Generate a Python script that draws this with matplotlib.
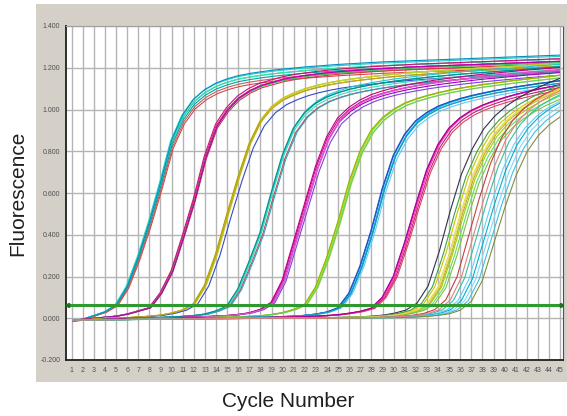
import numpy as np
import matplotlib.pyplot as plt
from matplotlib.patches import Rectangle

plt.rcParams['font.family'] = ['Liberation Sans', 'DejaVu Sans']

# cycles -1..47 (two extra points each side so shifted wells still cover 1..45)
cycles = np.arange(-1, 48)

g1 = [-0.015, -0.015,
      -0.015, -0.005, 0.012, 0.03, 0.062, 0.15, 0.29, 0.455, 0.64, 0.84,
      0.96, 1.035, 1.08, 1.11, 1.13, 1.145, 1.155, 1.163, 1.17, 1.176,
      1.181, 1.186, 1.19, 1.194, 1.198, 1.201, 1.204, 1.207, 1.21, 1.212,
      1.214, 1.216, 1.218, 1.22, 1.222, 1.224, 1.226, 1.228, 1.23, 1.232,
      1.234, 1.236, 1.238, 1.24, 1.242,
      1.244, 1.246]
g2 = [-0.01, -0.01,
      -0.01, -0.005, 0.0, 0.005, 0.01, 0.02, 0.035, 0.05, 0.12, 0.225,
      0.39, 0.565, 0.77, 0.92, 1.0, 1.055, 1.09, 1.115, 1.13, 1.145,
      1.155, 1.163, 1.17, 1.176, 1.181, 1.185, 1.189, 1.193, 1.196, 1.199,
      1.202, 1.205, 1.207, 1.209, 1.211, 1.213, 1.215, 1.217, 1.219, 1.221,
      1.223, 1.225, 1.227, 1.229, 1.231,
      1.233, 1.235]
g3 = [-0.01, -0.01,
      -0.01, -0.008, -0.005, 0.0, 0.0, 0.003, 0.006, 0.01, 0.015, 0.025,
      0.04, 0.07, 0.16, 0.31, 0.5, 0.68, 0.84, 0.95, 1.015, 1.055,
      1.08, 1.1, 1.115, 1.127, 1.137, 1.145, 1.152, 1.158, 1.164, 1.169,
      1.174, 1.178, 1.182, 1.186, 1.19, 1.193, 1.196, 1.199, 1.202, 1.205,
      1.208, 1.211, 1.214, 1.217, 1.22,
      1.223, 1.226]
g4 = [-0.012, -0.012,
      -0.012, -0.01, -0.008, -0.005, -0.003, 0.0, 0.0, 0.002, 0.004, 0.006,
      0.009, 0.013, 0.02, 0.035, 0.058, 0.14, 0.27, 0.41, 0.6, 0.78,
      0.91, 0.985, 1.03, 1.06, 1.08, 1.096, 1.108, 1.118, 1.127, 1.135,
      1.142, 1.148, 1.154, 1.159, 1.164, 1.169, 1.173, 1.177, 1.181, 1.185,
      1.189, 1.193, 1.197, 1.201, 1.205,
      1.209, 1.213]
g5 = [-0.01, -0.01,
      -0.01, -0.01, -0.008, -0.006, -0.004, -0.002, 0.0, 0.0, 0.0, 0.002,
      0.004, 0.006, 0.008, 0.01, 0.013, 0.018, 0.026, 0.042, 0.075, 0.18,
      0.36, 0.54, 0.72, 0.86, 0.95, 1.0, 1.035, 1.06, 1.078, 1.092,
      1.104, 1.114, 1.123, 1.131, 1.138, 1.145, 1.151, 1.157, 1.162, 1.167,
      1.172, 1.177, 1.181, 1.185, 1.189,
      1.193, 1.197]
g6 = [-0.01, -0.01,
      -0.01, -0.01, -0.008, -0.006, -0.005, -0.004, -0.003, -0.002, 0.0, 0.0,
      0.0, 0.002, 0.003, 0.004, 0.005, 0.007, 0.009, 0.012, 0.018, 0.027,
      0.042, 0.065, 0.15, 0.29, 0.46, 0.65, 0.8, 0.9, 0.96, 1.0,
      1.03, 1.05, 1.066, 1.08, 1.092, 1.102, 1.111, 1.119, 1.126, 1.133,
      1.14, 1.146, 1.152, 1.158, 1.164,
      1.17, 1.176]
g7 = [-0.008, -0.008,
      -0.008, -0.008, -0.007, -0.006, -0.005, -0.004, -0.003, -0.002, -0.001, 0.0,
      0.0, 0.0, 0.0, 0.001, 0.002, 0.003, 0.004, 0.005, 0.006, 0.008,
      0.01, 0.014, 0.02, 0.03, 0.05, 0.12, 0.25, 0.42, 0.62, 0.78,
      0.88, 0.945, 0.985, 1.015, 1.035, 1.052, 1.066, 1.078, 1.089, 1.099,
      1.108, 1.116, 1.124, 1.131, 1.138,
      1.145, 1.152]
g8 = [-0.008, -0.008,
      -0.008, -0.008, -0.007, -0.006, -0.005, -0.004, -0.003, -0.002, -0.002, -0.001,
      0.0, 0.0, 0.0, 0.0, 0.0, 0.001, 0.002, 0.003, 0.004, 0.005,
      0.006, 0.008, 0.01, 0.013, 0.017, 0.024, 0.033, 0.048, 0.1, 0.2,
      0.36, 0.54, 0.71, 0.83, 0.91, 0.96, 0.995, 1.02, 1.04, 1.057,
      1.072, 1.085, 1.097, 1.108, 1.118,
      1.128, 1.137]
g9 = [-0.01, -0.01,
      -0.01, -0.01, -0.009, -0.008, -0.007, -0.006, -0.005, -0.004, -0.003, -0.003,
      -0.002, -0.002, -0.001, -0.001, 0.0, 0.0, 0.0, 0.0, 0.0, 0.0,
      0.001, 0.001, 0.002, 0.002, 0.003, 0.004, 0.005, 0.007, 0.01, 0.015,
      0.024, 0.038, 0.07, 0.15, 0.31, 0.5, 0.67, 0.79, 0.88, 0.94,
      0.985, 1.02, 1.05, 1.075, 1.098,
      1.118, 1.136]
g10 = [-0.008, -0.008,
       -0.008, -0.008, -0.008, -0.007, -0.007, -0.006, -0.006, -0.005, -0.005, -0.004,
       -0.004, -0.003, -0.003, -0.002, -0.002, -0.001, -0.001, 0.0, 0.0, 0.0,
       0.0, 0.0, 0.0, 0.0, 0.001, 0.001, 0.002, 0.002, 0.003, 0.004,
       0.006, 0.009, 0.014, 0.022, 0.04, 0.085, 0.19, 0.37, 0.55, 0.71,
       0.83, 0.91, 0.965, 1.005, 1.035,
       1.06, 1.08]

groups = [g1, g2, g3, g4, g5, g6, g7, g8, g9, g10]

# per well: (cycle shift, gain, colour)
wells = [
    [(0.0, 1.0, '#00c8b4'), (-0.1, 1.01, '#20d0d0'), (0.05, 0.99, '#00a0a0'),
     (0.15, 0.97, '#d04848'), (0.1, 0.98, '#c06060'), (-0.05, 1.0, '#40e0a0'),
     (0.0, 1.015, '#0090c0')],
    [(0.0, 1.0, '#e0008c'), (0.08, 1.0, '#ff3cb4'), (-0.05, 1.01, '#d01070'),
     (0.12, 0.99, '#e03050'), (0.05, 0.995, '#40c060'), (0.1, 1.0, '#b000b0')],
    [(0.0, 1.0, '#d4c400'), (0.1, 1.0, '#e8b800'), (-0.05, 0.99, '#a8a800'),
     (0.15, 1.0, '#b0d840'), (0.35, 0.97, '#3848c8'), (0.05, 0.99, '#c8a020')],
    [(0.0, 1.0, '#00b0a0'), (0.1, 1.01, '#20c8d0'), (0.2, 0.98, '#c05050'),
     (0.05, 0.99, '#40d8c0'), (0.3, 0.98, '#30a0c0'), (-0.05, 1.0, '#009090')],
    [(0.0, 1.0, '#e000a0'), (0.1, 0.99, '#a000c0'), (0.2, 1.0, '#ff40c0'),
     (0.3, 0.98, '#8040e0'), (-0.05, 1.01, '#c00080'), (0.15, 1.0, '#d060d0')],
    [(0.0, 1.0, '#b8d000'), (0.1, 1.0, '#80e040'), (0.2, 0.99, '#d0d040'),
     (-0.05, 1.0, '#a0b000'), (0.15, 0.99, '#60d060')],
    [(0.0, 1.0, '#0070e0'), (0.1, 0.99, '#40a0ff'), (0.2, 1.0, '#00b0e0'),
     (-0.05, 1.0, '#2050c0'), (0.3, 0.98, '#60c8ff'), (0.15, 0.99, '#10a0b0')],
    [(0.0, 1.0, '#e000b0'), (0.1, 1.0, '#ff30a0'), (0.2, 0.99, '#c02080'),
     (0.3, 0.98, '#e04060'), (-0.05, 1.0, '#a000a0')],
    [(-0.9, 1.03, '#303050'), (-0.3, 1.0, '#c8c800'), (0.0, 1.0, '#e0e040'),
     (0.3, 0.99, '#a0d000'), (0.5, 0.98, '#60e060'), (0.7, 0.97, '#80c040'),
     (0.2, 1.0, '#b0b020'), (-0.5, 1.01, '#40a040'), (0.1, 1.0, '#f0d060')],
    [(-1.3, 1.04, '#c04040'), (-0.6, 1.02, '#30c0a0'), (-0.2, 1.0, '#60d0ff'),
     (0.1, 1.0, '#00b0d0'), (0.4, 0.99, '#80d8ff'), (0.7, 0.98, '#40c0e0'),
     (1.0, 0.96, '#809040'), (-0.9, 1.03, '#e08080')],
]

threshold = 0.065
x_ticks = list(range(1, 46))
y_ticks = [-0.2, 0.0, 0.2, 0.4, 0.6, 0.8, 1.0, 1.2, 1.4]

fig = plt.figure(figsize=(5.67, 4.16), dpi=100, facecolor='white')

# grey instrument panel behind the plot
panel = fig.add_axes([36 / 567, 34 / 416, 531 / 567, 378 / 416])
panel.set_facecolor('#d4d0c8')
panel.set_xticks([])
panel.set_yticks([])
for s in panel.spines.values():
    s.set_visible(False)
panel.set_zorder(0)

ax = fig.add_axes([66 / 567, 56 / 416, 497 / 567, 334 / 416])
ax.set_zorder(2)
ax.set_facecolor('white')
ax.set_xlim(0.49, 45.25)
ax.set_ylim(-0.2, 1.4)

clip = Rectangle((1, -1), 44, 3, transform=ax.transData)

for prof, grp in zip(groups, wells):
    prof = np.array(prof)
    for shift, gain, col in grp:
        ln, = ax.plot(cycles + shift, prof * gain, color=col, lw=0.8, zorder=3)
        ln.set_clip_path(clip)

ax.plot([0.55, 45.2], [threshold, threshold], color='#2e9a2e', lw=2.2, zorder=4)
ax.plot([0.6], [threshold], marker='<', ms=3, color='#1f6f1f', zorder=5)
ax.plot([45.15], [threshold], marker='>', ms=3, color='#1f6f1f', zorder=5)

ax.set_xticks(x_ticks)
ax.set_xticklabels([str(c) for c in x_ticks])
ax.set_yticks(y_ticks)
ax.set_yticklabels(['%.3f' % v for v in y_ticks])
ax.tick_params(length=0, labelsize=5, labelcolor='#505050')
ax.tick_params(axis='x', pad=5)
ax.tick_params(axis='y', pad=4)
ax.grid(True, color='#b4b4b4', lw=1.0, zorder=1)
ax.set_axisbelow(True)

for side in ['left', 'bottom']:
    ax.spines[side].set_color('#202020')
    ax.spines[side].set_linewidth(1.3)
ax.spines['top'].set_color('#a0a0a0')
ax.spines['right'].set_color('#505050')

fig.text(0.032, 0.536, 'Fluorescence', rotation=90, ha='center', va='center',
         fontsize=15, color='#202020')
fig.text(0.509, 0.035, 'Cycle Number', ha='center', va='center',
         fontsize=15, color='#202020')

plt.savefig('out.png', dpi=100)
plt.close()
